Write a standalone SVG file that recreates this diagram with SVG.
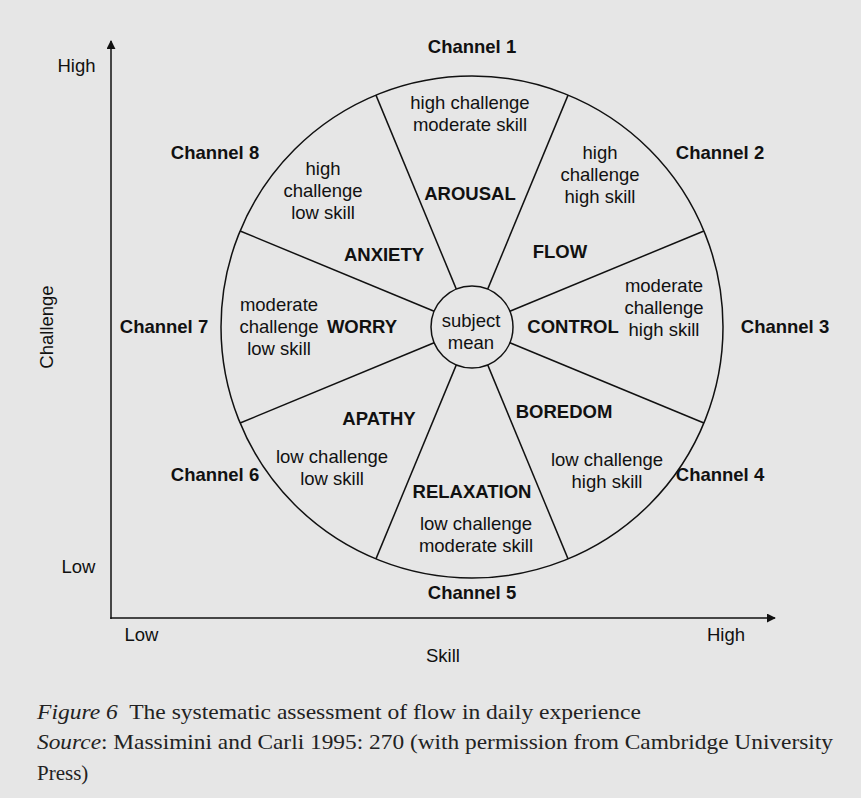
<svg xmlns="http://www.w3.org/2000/svg" width="861" height="798" viewBox="0 0 861 798">
  <defs>
    <style>
      .bg { fill: #e6e6e6; }
      .ln { stroke: #111; stroke-width: 1.5; fill: none; }
      .t { font-family: "Liberation Sans", Arial, Helvetica, sans-serif; font-size: 18.5px; fill: #111; text-anchor: middle; }
      .b { font-family: "Liberation Sans", Arial, Helvetica, sans-serif; font-size: 18.5px; font-weight: bold; fill: #111; text-anchor: middle; }
      .cap { font-family: "Liberation Serif", "Times New Roman", serif; font-size: 21px; fill: #222; }
    </style>
    <marker id="arr" viewBox="0 0 10 10" refX="9" refY="5" markerWidth="9" markerHeight="9" markerUnits="userSpaceOnUse" orient="auto">
      <path d="M0,0 L10,5 L0,10 Z" fill="#111"/>
    </marker>
  </defs>
  <rect class="bg" x="0" y="0" width="861" height="798"/>

  <g id="connectors">
    <line class="ln" x1="111" y1="619" x2="111" y2="41" marker-end="url(#arr)"/>
    <line class="ln" x1="110.25" y1="618" x2="775" y2="618" marker-end="url(#arr)"/>
  </g>

  <g id="wheel">
    <circle class="ln" cx="472" cy="327" r="251"/>
    <line class="ln" x1="509.88" y1="342.69" x2="703.9" y2="423.05"/>
    <line class="ln" x1="487.69" y1="364.88" x2="568.05" y2="558.9"/>
    <line class="ln" x1="456.31" y1="364.88" x2="375.95" y2="558.9"/>
    <line class="ln" x1="434.12" y1="342.69" x2="240.1" y2="423.05"/>
    <line class="ln" x1="434.12" y1="311.31" x2="240.1" y2="230.95"/>
    <line class="ln" x1="456.31" y1="289.12" x2="375.95" y2="95.1"/>
    <line class="ln" x1="487.69" y1="289.12" x2="568.05" y2="95.1"/>
    <line class="ln" x1="509.88" y1="311.31" x2="703.9" y2="230.95"/>
  </g>

  <g id="center">
    <circle class="ln" cx="472" cy="327" r="41"/>
    <text class="t" x="471" y="327">subject</text>
    <text class="t" x="471" y="349">mean</text>
  </g>

  <g id="axes-labels">
    <text class="t" x="76.5" y="72">High</text>
    <text class="t" x="78.5" y="573">Low</text>
    <text class="t" x="141.5" y="641">Low</text>
    <text class="t" x="726" y="641">High</text>
    <text class="t" x="443" y="662">Skill</text>
    <text class="t" transform="translate(53,327) rotate(-90)" x="0" y="0">Challenge</text>
  </g>

  <g id="channel1">
    <text class="b" x="472" y="53">Channel 1</text>
    <text class="t" x="470" y="109">high challenge</text>
    <text class="t" x="470" y="131">moderate skill</text>
    <text class="b" x="470" y="200">AROUSAL</text>
  </g>
  <g id="channel2">
    <text class="b" x="720" y="159">Channel 2</text>
    <text class="t" x="600" y="159">high</text>
    <text class="t" x="600" y="181">challenge</text>
    <text class="t" x="600" y="203">high skill</text>
    <text class="b" x="560" y="258">FLOW</text>
  </g>
  <g id="channel3">
    <text class="b" x="785" y="333">Channel 3</text>
    <text class="t" x="664" y="292">moderate</text>
    <text class="t" x="664" y="314">challenge</text>
    <text class="t" x="664" y="336">high skill</text>
    <text class="b" x="573" y="333">CONTROL</text>
  </g>
  <g id="channel4">
    <text class="b" x="720" y="481">Channel 4</text>
    <text class="t" x="607" y="466">low challenge</text>
    <text class="t" x="607" y="488">high skill</text>
    <text class="b" x="564" y="418">BOREDOM</text>
  </g>
  <g id="channel5">
    <text class="b" x="472" y="599">Channel 5</text>
    <text class="t" x="476" y="530">low challenge</text>
    <text class="t" x="476" y="552">moderate skill</text>
    <text class="b" x="472" y="498">RELAXATION</text>
  </g>
  <g id="channel6">
    <text class="b" x="215" y="481">Channel 6</text>
    <text class="t" x="332" y="463">low challenge</text>
    <text class="t" x="332" y="485">low skill</text>
    <text class="b" x="379" y="425">APATHY</text>
  </g>
  <g id="channel7">
    <text class="b" x="164" y="333">Channel 7</text>
    <text class="t" x="279" y="311">moderate</text>
    <text class="t" x="279" y="333">challenge</text>
    <text class="t" x="279" y="355">low skill</text>
    <text class="b" x="362" y="333">WORRY</text>
  </g>
  <g id="channel8">
    <text class="b" x="215" y="159">Channel 8</text>
    <text class="t" x="323" y="175">high</text>
    <text class="t" x="323" y="197">challenge</text>
    <text class="t" x="323" y="219">low skill</text>
    <text class="b" x="384" y="261">ANXIETY</text>
  </g>

  <g id="caption">
    <text class="cap" x="37" y="719" textLength="604" lengthAdjust="spacingAndGlyphs"><tspan font-style="italic">Figure 6</tspan>&#160; The systematic assessment of flow in daily experience</text>
    <text class="cap" x="37" y="749" textLength="796" lengthAdjust="spacingAndGlyphs"><tspan font-style="italic">Source</tspan>: Massimini and Carli 1995: 270 (with permission from Cambridge University</text>
    <text class="cap" x="37" y="780">Press)</text>
  </g>
</svg>
